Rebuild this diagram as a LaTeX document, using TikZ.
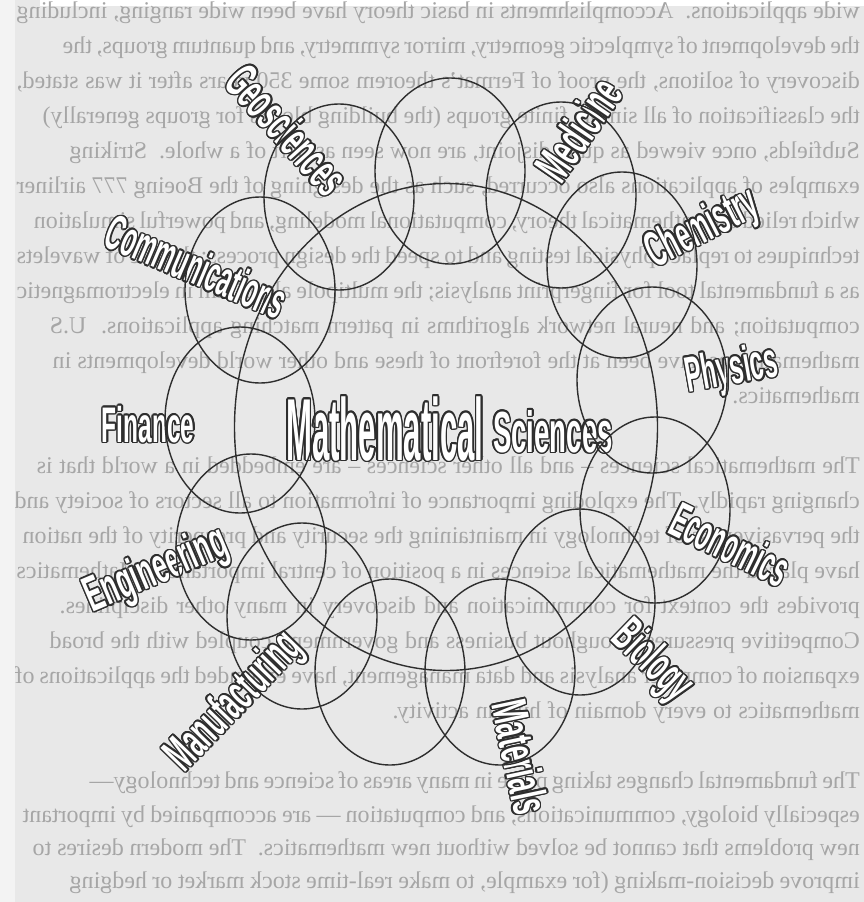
\documentclass[tikz,border=0pt]{standalone}
\usepackage{fontspec}
\setmainfont{Liberation Serif}
\newfontfamily\labfont{Liberation Sans}
\usepackage{graphicx}
\usepackage{contour}
\contourlength{1.5pt}
\usetikzlibrary{shapes.geometric}
\definecolor{pagebg}{HTML}{E8E8E8}
\definecolor{ghost}{HTML}{A6A6A6}
\definecolor{inkc}{HTML}{2E2E2E}
\definecolor{edgebg}{HTML}{F3F3F3}
\newcommand\outlab[2]{\contour{inkc}{\scalebox{#1}[1]{#2}}}
\newcommand\mirln[2]{\reflectbox{\makebox[#1][s]{#2}}}
\begin{document}
\begin{tikzpicture}[x=1pt,y=-1pt,
  ring/.style={ellipse, draw=inkc, line width=1.4pt, minimum width=150pt, minimum height=186pt, inner sep=0pt},
  bigring/.style={ellipse, draw=inkc, line width=1.4pt, minimum width=423pt, minimum height=487pt, inner sep=0pt},
  bgline/.style={anchor=base east, inner sep=0pt, text=ghost, font=\fontsize{24}{24}\selectfont},
  lab/.style={inner sep=0pt, text=white, font=\labfont\bfseries\fontsize{50}{50}\selectfont}]
\useasboundingbox (0,0) rectangle (864,902);
\fill[pagebg] (0,0) rectangle (864,902);
\fill[white] (40,0) rectangle (864,6);
% mirrored bleed-through text
\node[bgline] (t1) at (860,18) {\mirln{843pt}{wide applications.\ \ Accomplishments in basic theory have been wide ranging, including}};
\node[bgline] (t2) at (860,53) {\mirln{797pt}{the development of symplectic geometry, mirror symmetry, and quantum groups, the}};
\node[bgline] (t3) at (860,88) {\mirln{843pt}{discovery of solitons, the proof of Fermat's theorem some 350 years after it was stated,}};
\node[bgline] (t4) at (860,123) {\mirln{817pt}{the classification of all simple finite groups (the building blocks for groups generally)}};
\node[bgline] (t5) at (860,158) {\mirln{790pt}{Subfields, once viewed as quite disjoint, are now seen as part of a whole.\ \ Striking}};
\node[bgline] (t6) at (860,193) {\mirln{843pt}{examples of applications also occurred, such as the designing of the Boeing 777 airliner}};
\node[bgline] (t7) at (860,228) {\mirln{823pt}{which relied on mathematical theory, computational modeling, and powerful simulation}};
\node[bgline] (t8) at (860,263) {\mirln{843pt}{techniques to replace physical testing and to speed the design process; the use of wavelets}};
\node[bgline] (t9) at (860,298) {\mirln{843pt}{as a fundamental tool for fingerprint analysis; the multipole algorithm in electromagnetic}};
\node[bgline] (t10) at (860,333) {\mirln{810pt}{computation; and neural network algorithms in pattern matching applications.\ \ U.S}};
\node[bgline] (t11) at (860,368) {\mirln{807pt}{mathematicians have been at the forefront of these and other world developments in}};
\node[bgline] (t12) at (860,403) {\reflectbox{mathematics.}};
\node[bgline] (t13) at (860,473) {\mirln{823pt}{The mathematical sciences -- and all other sciences -- are embedded in a world that is}};
\node[bgline] (t14) at (860,508) {\mirln{845pt}{changing rapidly.\ \ The exploding importance of information to all sectors of society and}};
\node[bgline] (t15) at (860,543) {\mirln{837pt}{the pervasiveness of technology in maintaining the security and prosperity of the nation}};
\node[bgline] (t16) at (860,578) {\mirln{843pt}{have placed the mathematical sciences in a position of central importance.\ \ Mathematics}};
\node[bgline] (t17) at (860,613) {\mirln{800pt}{provides the context for communication and discovery in many other disciplines.}};
\node[bgline] (t18) at (860,648) {\mirln{810pt}{Competitive pressures throughout business and government, coupled with the broad}};
\node[bgline] (t19) at (860,683) {\mirln{845pt}{expansion of computer analysis and data management, have expanded the applications of}};
\node[bgline] (t20) at (860,718) {\mirln{467pt}{mathematics to every domain of human activity.}};
\node[bgline] (t21) at (860,788) {\mirln{770pt}{The fundamental changes taking place in many areas of science and technology---}};
\node[bgline] (t22) at (860,822) {\mirln{837pt}{especially biology, communications, and computation --- are accompanied by important}};
\node[bgline] (t23) at (860,855) {\mirln{827pt}{new problems that cannot be solved without new mathematics.\ \ The modern desires to}};
\node[bgline] (t24) at (860,888) {\mirln{790pt}{improve decision-making (for example, to make real-time stock market or hedging}};
\fill[edgebg] (0,0) rectangle (15,902);
% labels
\node[lab, anchor=base west, font=\labfont\bfseries\fontsize{88}{88}\selectfont] (ms1) at (286,460) {\outlab{0.354}{Mathematical}};
\node[lab, anchor=base west, font=\labfont\bfseries\fontsize{58}{58}\selectfont] (ms2) at (493,452) {\outlab{0.475}{Sciences}};
\node[lab, rotate=-48] (geo) at (287,130) {\outlab{0.5}{Geosciences}};
\node[lab, rotate=55.5] (med) at (579,130) {\outlab{0.52}{Medicine}};
\node[lab, rotate=27] (chem) at (703,230) {\outlab{0.49}{Chemistry}};
\node[lab, rotate=10] (phys) at (732,372) {\outlab{0.49}{Physics}};
\node[lab, rotate=-23] (comm) at (196,267) {\outlab{0.47}{Communications}};
\node[lab] (fin) at (148,425) {\outlab{0.49}{Finance}};
\node[lab, rotate=-26] (econ) at (730,545) {\outlab{0.47}{Economics}};
\node[lab, rotate=23] (eng) at (157,572) {\outlab{0.52}{Engineering}};
\node[lab, rotate=-44] (bio) at (651,663) {\outlab{0.5}{Biology}};
\node[lab, rotate=46] (manu) at (236,703) {\outlab{0.5}{Manufacturing}};
\node[lab, rotate=-78] (mat) at (520,757) {\outlab{0.53}{Materials}};
% circles
\node[bigring] (big) at (446,427) {};
\node[ring] (c1) at (339,197) {};
\node[ring] (c2) at (450,171) {};
\node[ring] (c3) at (561,195) {};
\node[ring] (c4) at (622,265) {};
\node[ring] (c5) at (652,380) {};
\node[ring] (c6) at (655,510) {};
\node[ring] (c7) at (580,602) {};
\node[ring] (c8) at (500,672) {};
\node[ring] (c9) at (390,672) {};
\node[ring] (c10) at (302,616) {};
\node[ring] (c11) at (251,547) {};
\node[ring] (c12) at (240,420) {};
\node[ring] (c13) at (260,290) {};
\end{tikzpicture}
\end{document}
